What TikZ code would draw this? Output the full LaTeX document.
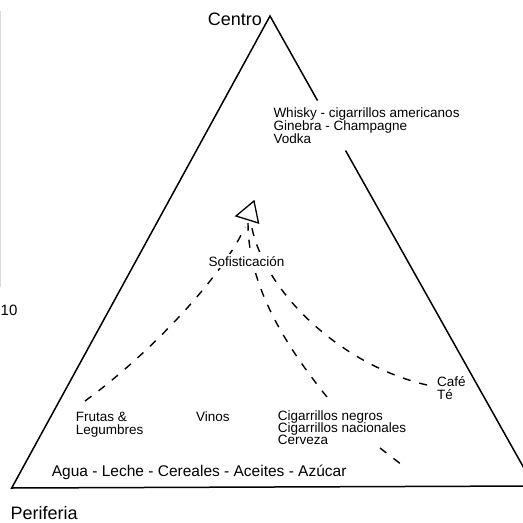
\documentclass[tikz,border=0pt]{standalone}
\usepackage{fontspec}
\setmainfont{Liberation Sans}
\usetikzlibrary{calc}
\begin{document}
\begin{tikzpicture}[x=1pt,y=-1pt,
  edge/.style={line width=1.5pt, line cap=round, line join=miter},
  dashcurve/.style={line width=1.4pt, dash pattern=on 8pt off 9pt},
  arrowtri/.style={line width=1.3pt, line join=miter},
  smalltxt/.style={font=\fontsize{13.5}{15}\selectfont, inner sep=0pt, anchor=base west},
  bigtxt/.style={font=\fontsize{18}{20}\selectfont, inner sep=0pt},
  midtxt/.style={font=\fontsize{15.5}{17}\selectfont, inner sep=0pt, anchor=base west},
  scanline/.style={gray!30, line width=1pt}
]
\useasboundingbox (0,0) rectangle (523,523);
% scan artefact
\coordinate (g1) at (0.8,11);
\coordinate (g2) at (0.8,287);
\draw[scanline] (g1) -- (g2);
% triangle
\coordinate (top) at (270,16);
\coordinate (L) at (11.7,488);
\coordinate (R) at (534,486);
\coordinate (gapA) at ($(top)!0.179!(R)$);
\coordinate (gapB) at ($(top)!0.287!(R)$);
\draw[edge] (gapA) -- (top) -- (L) -- (R) -- (gapB);
% arrow head
\coordinate (aL) at (236,216);
\coordinate (aT) at (254,201);
\coordinate (aR) at (258.5,223);
\draw[arrowtri] (aL) -- (aT) -- (aR) -- cycle;
% dashed curves
\coordinate (s1) at (85,401);
\coordinate (e1) at (245,227);
\coordinate (s2) at (327,397);
\coordinate (e2) at (248,223);
\coordinate (s3) at (427,385);
\coordinate (e3) at (251,223);
\draw[dashcurve] (s1) .. controls (155,350) and (225,272) .. (e1);
\draw[dashcurve] (s2) .. controls (285,345) and (248,285) .. (e2);
\draw[dashcurve] (s3) .. controls (340,365) and (262,290) .. (e3);
\coordinate (k1) at (380,448);
\coordinate (k2) at (402,465);
\draw[dashcurve] (k1) -- (k2);
% texts
\node[bigtxt, anchor=base east] (centro) at (262,25) {Centro};
\node[smalltxt] (w1) at (273.3,117.7) {Whisky - cigarrillos americanos};
\node[smalltxt] (w2) at (273.3,130.5) {Ginebra - Champagne};
\node[smalltxt] (w3) at (273.3,143.3) {Vodka};
\node[smalltxt, fill=white, inner sep=2pt] (sof) at (206.3,266) {Sofisticación};
\node[smalltxt] (fr1) at (75.7,421.7) {Frutas \&};
\node[smalltxt] (fr2) at (75.7,434) {Legumbres};
\node[smalltxt] (vin) at (196,421) {Vinos};
\node[smalltxt] (cg1) at (277.7,420.5) {Cigarrillos negros};
\node[smalltxt] (cg2) at (277.7,432.5) {Cigarrillos nacionales};
\node[smalltxt] (cg3) at (277.7,444.5) {Cerveza};
\node[smalltxt] (cafe) at (437,386) {Café};
\node[smalltxt] (te) at (437,399) {Té};
\node[midtxt] (agua) at (51.7,476.7) {Agua - Leche - Cereales - Aceites - Azúcar};
\node[bigtxt, anchor=base west] (peri) at (10.5,519) {Periferia};
\node[font=\fontsize{15}{17}\selectfont, inner sep=0pt, anchor=base west] (ten) at (0.5,315) {10};
\end{tikzpicture}
\end{document}
